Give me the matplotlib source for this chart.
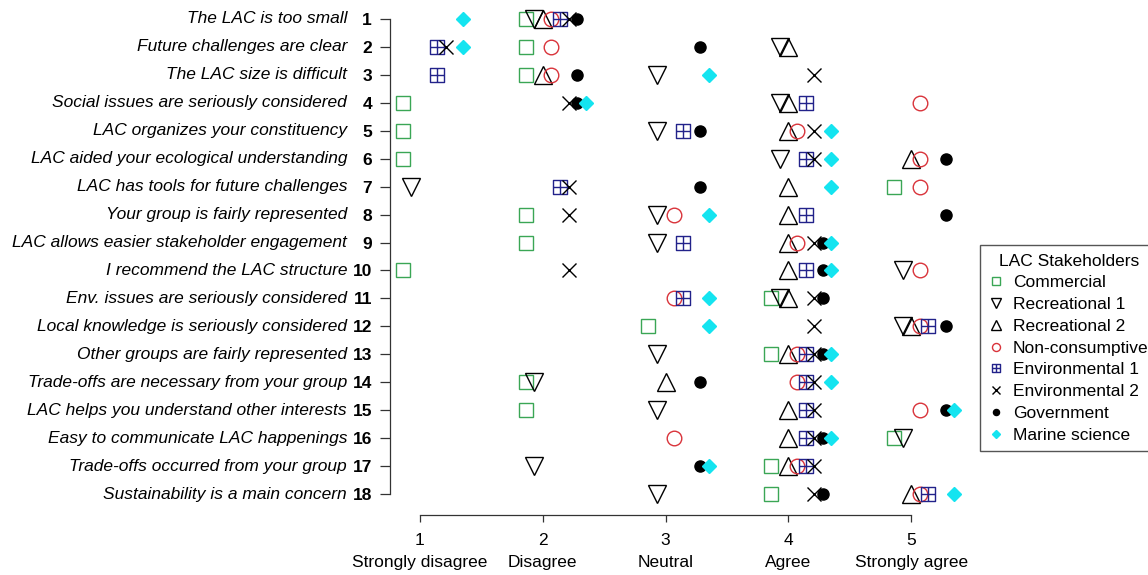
import numpy as np
import matplotlib
matplotlib.use("Agg")
import matplotlib.pyplot as plt
from matplotlib.path import Path
from matplotlib.lines import Line2D

plt.rcParams['font.family'] = ['Liberation Sans', 'DejaVu Sans']

questions = [
    "The LAC is too small",
    "Future challenges are clear",
    "The LAC size is difficult",
    "Social issues are seriously considered",
    "LAC organizes your constituency",
    "LAC aided your ecological understanding",
    "LAC has tools for future challenges",
    "Your group is fairly represented",
    "LAC allows easier stakeholder engagement",
    "I recommend the LAC structure",
    "Env. issues are seriously considered",
    "Local knowledge is seriously considered",
    "Other groups are fairly represented",
    "Trade-offs are necessary from your group",
    "LAC helps you understand other interests",
    "Easy to communicate LAC happenings",
    "Trade-offs occurred from your group",
    "Sustainability is a main concern",
]

scale_labels = ["1\nStrongly disagree", "2\nDisagree", "3\nNeutral",
                "4\nAgree", "5\nStrongly agree"]

groups = ["Commercial", "Recreational 1", "Recreational 2", "Non-consumptive",
          "Environmental 1", "Environmental 2", "Government", "Marine science"]

# median response per question (rows 1..18)
commercial    = [2, 2, 2, 1, 1, 1, 5, 2, 2, 1, 4, 3, 4, 2, 2, 5, 4, 4]
recreational1 = [2, 4, 3, 4, 3, 4, 1, 3, 3, 5, 4, 5, 3, 2, 3, 5, 2, 3]
recreational2 = [2, 4, 2, 4, 4, 5, 4, 4, 4, 4, 4, 5, 4, 3, 4, 4, 4, 5]
nonconsumptive = [2, 2, 2, 5, 4, 5, 5, 3, 4, 5, 3, 5, 4, 4, 5, 3, 4, 5]
environmental1 = [2, 1, 1, 4, 3, 4, 2, 4, 3, 4, 3, 5, 4, 4, 4, 4, 4, 5]
environmental2 = [2, 1, 4, 2, 4, 4, 2, 2, 4, 2, 4, 4, 4, 4, 4, 4, 4, 4]
government    = [2, 3, 2, 2, 3, 5, 3, 5, 4, 4, 4, 5, 4, 3, 5, 4, 3, 4]
marine        = [1, 1, 3, 2, 4, 4, 4, 3, 4, 4, 3, 3, 4, 4, 5, 4, 3, 5]

series = [commercial, recreational1, recreational2, nonconsumptive,
          environmental1, environmental2, government, marine]

# squared-plus marker (like R pch 12)
boxplus = Path(
    [(-1, -1), (1, -1), (1, 1), (-1, 1), (-1, -1),
     (0, -1), (0, 1), (-1, 0), (1, 0)],
    [Path.MOVETO, Path.LINETO, Path.LINETO, Path.LINETO, Path.CLOSEPOLY,
     Path.MOVETO, Path.LINETO, Path.MOVETO, Path.LINETO])

styles = [
    dict(marker='s', ms=10, mfc='none', mec='#3aa655'),
    dict(marker='v', ms=13, mfc='none', mec='black'),
    dict(marker='^', ms=13, mfc='none', mec='black'),
    dict(marker='o', ms=10.5, mfc='none', mec='#d9333a'),
    dict(marker=boxplus, ms=10, mfc='none', mec='#22228a'),
    dict(marker='x', ms=10, mfc='none', mec='black'),
    dict(marker='o', ms=8, mfc='black', mec='black'),
    dict(marker='D', ms=7, mfc='#14e4f0', mec='#14e4f0'),
]

rows = np.arange(1, len(questions) + 1)
offsets = (np.arange(len(groups)) - 2) * 0.07

fig = plt.figure(figsize=(11.48, 5.75), dpi=100)
ax = fig.add_axes([390 / 1148, 1 - 515 / 575, 585 / 1148, 505 / 575])

for i, (vals, st) in enumerate(zip(series, styles)):
    ax.plot(np.array(vals) + offsets[i], rows, linestyle='none',
            mew=1.0, zorder=3 + i, clip_on=False, **st)

ax.set_xlim(0.756, 5.52)
ax.set_ylim(18.75, 0.68)

for s in ['top', 'right']:
    ax.spines[s].set_visible(False)
ax.spines['left'].set_bounds(1, 18)
ax.spines['bottom'].set_bounds(1, 5)
for s in ['left', 'bottom']:
    ax.spines[s].set_linewidth(0.9)
    ax.spines[s].set_color('#333333')

ax.set_yticks(rows)
ax.set_yticklabels([str(r) for r in rows], fontweight='bold', fontsize=12.5)
ax.tick_params(axis='y', length=7, width=0.9, pad=6, color='#333333')

ax.set_xticks([1, 2, 3, 4, 5])
ax.set_xticklabels(scale_labels, fontsize=12.5, linespacing=1.6)
ax.tick_params(axis='x', length=5, width=0.9, pad=8, color='#333333')

trans = matplotlib.transforms.blended_transform_factory(ax.transAxes, ax.transData)
for r, q in zip(rows, questions):
    ax.text(-0.0735, r, q, transform=trans, ha='right', va='center',
            fontsize=12.5, style='italic')

handles = []
for g, st in zip(groups, styles):
    st2 = dict(st)
    st2['ms'] = st['ms'] * 0.55
    handles.append(Line2D([], [], linestyle='none', mew=1.0, label=g, **st2))

fig.legend(handles=handles, title="LAC Stakeholders", loc='upper left',
           bbox_to_anchor=(980 / 1148, 1 - 245 / 575), fontsize=12.5,
           title_fontsize=12.5, frameon=True, fancybox=False,
           edgecolor='#555555', framealpha=1, labelspacing=0.38,
           handlelength=0.8, handletextpad=0.6, borderpad=0.5,
           borderaxespad=0)

fig.savefig("out.png", dpi=100)
